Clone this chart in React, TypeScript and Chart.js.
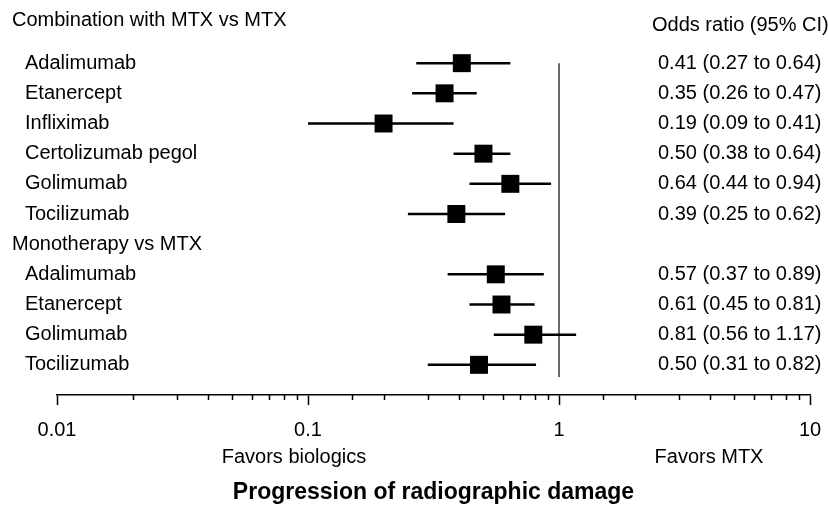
import React, { useEffect, useRef } from 'react';
import { Chart, registerables } from 'chart.js';

Chart.register(...registerables);

// ---- data ----
const groupHeaders = ['Combination with MTX vs MTX', 'Monotherapy vs MTX'];

const combinationDrugs = ['Adalimumab', 'Etanercept', 'Infliximab', 'Certolizumab pegol', 'Golimumab', 'Tocilizumab'];
const combinationOR = [0.41, 0.35, 0.2, 0.5, 0.64, 0.39];
const combinationLow = [0.27, 0.26, 0.1, 0.38, 0.44, 0.25];
const combinationHigh = [0.64, 0.47, 0.38, 0.64, 0.93, 0.61];
const combinationCI = [
  '0.41 (0.27 to 0.64)',
  '0.35 (0.26 to 0.47)',
  '0.19 (0.09 to 0.41)',
  '0.50 (0.38 to 0.64)',
  '0.64 (0.44 to 0.94)',
  '0.39 (0.25 to 0.62)',
];

const monotherapyDrugs = ['Adalimumab', 'Etanercept', 'Golimumab', 'Tocilizumab'];
const monotherapyOR = [0.56, 0.59, 0.79, 0.48];
const monotherapyLow = [0.36, 0.44, 0.55, 0.3];
const monotherapyHigh = [0.87, 0.8, 1.17, 0.81];
const monotherapyCI = [
  '0.57 (0.37 to 0.89)',
  '0.61 (0.45 to 0.81)',
  '0.81 (0.56 to 1.17)',
  '0.50 (0.31 to 0.82)',
];

const xTickLabels = ['0.01', '0.1', '1', '10'];
const ciHeader = 'Odds ratio (95% CI)';
const favorsLeft = 'Favors biologics';
const favorsRight = 'Favors MTX';
const xTitle = 'Progression of radiographic damage';

// ---- rows ----
type Row = { kind: 'header' | 'item'; text: string; or?: number; lo?: number; hi?: number; ci?: string };
const rows: Row[] = [];
rows.push({ kind: 'header', text: groupHeaders[0] });
combinationDrugs.forEach((d, i) =>
  rows.push({ kind: 'item', text: d, or: combinationOR[i], lo: combinationLow[i], hi: combinationHigh[i], ci: combinationCI[i] })
);
rows.push({ kind: 'header', text: groupHeaders[1] });
monotherapyDrugs.forEach((d, i) =>
  rows.push({ kind: 'item', text: d, or: monotherapyOR[i], lo: monotherapyLow[i], hi: monotherapyHigh[i], ci: monotherapyCI[i] })
);

const FONT = '"Liberation Sans", Arial, sans-serif';

const isMajor = (v: number | undefined) => {
  if (v === undefined || v <= 0) return false;
  const l = Math.log10(v);
  return Math.abs(l - Math.round(l)) < 1e-6;
};
const labelFor = (v: number) => {
  if (!isMajor(v)) return '';
  const found = xTickLabels.find((s) => Math.abs(Number(s) - v) < 1e-9 * Math.max(1, v));
  return found ?? '';
};

const forestPlugin = {
  id: 'forestText',
  afterDraw(chart: any) {
    const { ctx, chartArea, scales } = chart;
    const x = scales.x;
    const y = scales.y;
    ctx.save();
    // minor ticks (shorter)
    ctx.strokeStyle = '#000';
    ctx.lineWidth = 1.5;
    x.ticks.forEach((t: any) => {
      if (!isMajor(t.value)) {
        const px = Math.round(x.getPixelForValue(t.value)) + 0.5;
        ctx.beginPath();
        ctx.moveTo(px, chartArea.bottom);
        ctx.lineTo(px, chartArea.bottom + 5);
        ctx.stroke();
      }
    });
    // row texts
    ctx.fillStyle = '#000';
    ctx.font = `20px ${FONT}`;
    ctx.textBaseline = 'middle';
    ctx.textAlign = 'left';
    rows.forEach((r, i) => {
      const py = y.getPixelForValue(i);
      if (r.kind === 'header') {
        ctx.fillText(r.text, 12, i === 0 ? chartArea.top - 13 : py);
      } else {
        ctx.fillText(r.text, 25, py);
        ctx.fillText(r.ci, 658, py);
      }
    });
    ctx.fillText(ciHeader, 652, chartArea.top - 8);
    ctx.textAlign = 'center';
    ctx.fillText(favorsLeft, 294, 457);
    ctx.fillText(favorsRight, 709, 457);
    ctx.font = `bold 23px ${FONT}`;
    ctx.fillText(xTitle, (chartArea.left + chartArea.right) / 2, 493);
    ctx.restore();
  },
};

export default function App() {
  const ref = useRef<HTMLCanvasElement | null>(null);
  useEffect(() => {
    if (!ref.current) return;
    const items = rows.map((r, i) => ({ r, i })).filter((o) => o.r.kind === 'item');
    const firstItem = items[0].i;
    const lastItem = items[items.length - 1].i;

    const datasets: any[] = [
      {
        label: 'OR',
        data: items.map((o) => ({ x: o.r.or, y: o.i })),
        pointStyle: 'rect',
        pointRadius: 12.7,
        backgroundColor: '#000',
        borderWidth: 0,
        showLine: false,
        order: 0,
      },
      ...items.map((o) => ({
        label: 'CI ' + o.r.text,
        data: [
          { x: o.r.lo, y: o.i },
          { x: o.r.hi, y: o.i },
        ],
        showLine: true,
        borderColor: '#000',
        borderWidth: 2.5,
        pointRadius: 0,
        order: 1,
      })),
      {
        label: 'null',
        data: [
          { x: 1, y: firstItem },
          { x: 1, y: lastItem + 0.4 },
        ],
        showLine: true,
        borderColor: '#444',
        borderWidth: 1.6,
        pointRadius: 0,
        order: 2,
      },
    ];

    const chart = new Chart(ref.current, {
      type: 'scatter',
      data: { datasets },
      options: {
        animation: false,
        responsive: false,
        events: [],
        layout: { padding: { left: 57, right: 18, top: 33, bottom: 0 } },
        plugins: { legend: { display: false }, tooltip: { enabled: false } },
        scales: {
          x: {
            type: 'logarithmic',
            min: 0.01,
            max: 10,
            position: 'bottom',
            afterFit: (s: any) => {
              s.height = 111;
              s.paddingLeft = 0;
              s.paddingRight = 0;
            },
            border: { display: true, color: '#000', width: 1.5 },
            grid: {
              drawOnChartArea: false,
              drawTicks: true,
              tickLength: 10,
              tickWidth: 1.5,
              tickColor: (c: any) => (isMajor(c.tick ? c.tick.value : undefined) ? '#000' : 'rgba(0,0,0,0)'),
            },
            ticks: {
              autoSkip: false,
              maxRotation: 0,
              minRotation: 0,
              padding: 13,
              color: '#000',
              font: { family: FONT, size: 20 },
              callback: (v: any) => labelFor(Number(v)),
            },
          },
          y: { type: 'linear', min: 0, max: 12, reverse: true, display: false },
        },
      },
      plugins: [forestPlugin],
    } as any);
    return () => chart.destroy();
  }, []);

  return (
    <div style={{ position: 'absolute', left: 0, top: 0, width: 828, height: 506, background: '#fff' }}>
      <canvas ref={ref} width={828} height={506} style={{ width: 828, height: 506, display: 'block' }} />
    </div>
  );
}
